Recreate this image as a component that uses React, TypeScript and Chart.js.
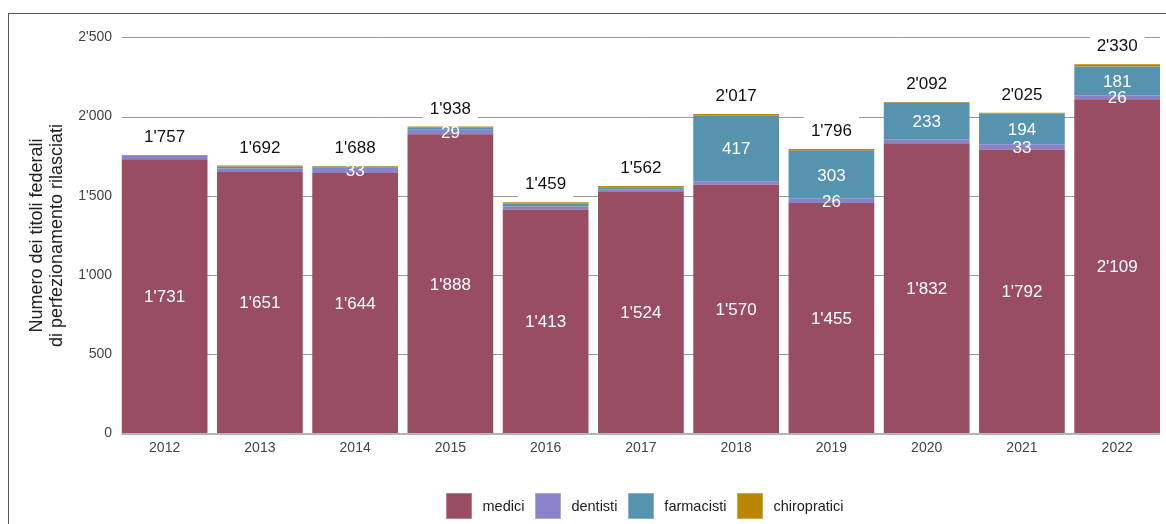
import React, { useEffect, useRef } from "react";
import { Chart, registerables } from "chart.js";

Chart.register(...registerables);

const years = ["2012", "2013", "2014", "2015", "2016", "2017", "2018", "2019", "2020", "2021", "2022"];
const medici = [1731, 1651, 1644, 1888, 1413, 1524, 1570, 1455, 1832, 1792, 2109];
const dentisti = [21, 22, 33, 29, 20, 18, 22, 26, 22, 33, 26];
const farmacisti = [1, 11, 7, 12, 18, 12, 417, 303, 233, 194, 181];
const chiropratici = [4, 8, 4, 9, 8, 8, 8, 12, 5, 6, 14];
const seriesNames = ["medici", "dentisti", "farmacisti", "chiropratici"];
const seriesColors = ["#994D63", "#8883C8", "#5593AF", "#BA8600"];
const yTicks = [0, 500, 1000, 1500, 2000, 2500];
const yTitle = ["Numero dei titoli federali", "di perfezionamento rilasciati"];
const labelThreshold = 25;

const FONT = "'Liberation Sans', Arial, Helvetica, sans-serif";
const fmt = (n: number) => String(n).replace(/\B(?=(\d{3})+(?!\d))/g, "'");

const gridPlugin = {
  id: "customGrid",
  beforeDatasetsDraw(chart: any) {
    const ctx = chart.ctx;
    const y = chart.scales.y;
    const meta = chart.getDatasetMeta(0);
    const first = meta.data[0];
    const last = meta.data[meta.data.length - 1];
    const x0 = first.x - first.width / 2;
    const x1 = last.x + last.width / 2;
    ctx.save();
    ctx.strokeStyle = "#9a9a9a";
    ctx.lineWidth = 1;
    y.ticks.forEach((t: any) => {
      if (t.value === 0) return;
      const py = Math.round(y.getPixelForValue(t.value)) + 0.5;
      ctx.beginPath();
      ctx.moveTo(x0, py);
      ctx.lineTo(x1, py);
      ctx.stroke();
    });
    ctx.restore();
  },
  afterDatasetsDraw(chart: any) {
    const ctx = chart.ctx;
    const y = chart.scales.y;
    const meta = chart.getDatasetMeta(0);
    const first = meta.data[0];
    const last = meta.data[meta.data.length - 1];
    const x0 = first.x - first.width / 2;
    const x1 = last.x + last.width / 2;
    const py = y.getPixelForValue(0) + 0.5;
    ctx.save();
    ctx.strokeStyle = "#b4b4b4";
    ctx.lineWidth = 2;
    ctx.beginPath();
    ctx.moveTo(x0, py);
    ctx.lineTo(x1, py);
    ctx.stroke();

    // inner labels
    ctx.font = `17px ${FONT}`;
    ctx.textAlign = "center";
    ctx.textBaseline = "middle";
    ctx.fillStyle = "#ffffff";
    chart.data.datasets.forEach((ds: any, i: number) => {
      const m = chart.getDatasetMeta(i);
      m.data.forEach((bar: any, j: number) => {
        const v = ds.data[j];
        if (v < labelThreshold) return;
        const cy = (bar.y + bar.base) / 2;
        ctx.fillText(fmt(v), bar.x, cy + 1);
      });
    });

    // totals
    chart.data.labels.forEach((_: any, j: number) => {
      let total = 0;
      chart.data.datasets.forEach((ds: any) => (total += ds.data[j]));
      const bar = meta.data[j];
      const top = y.getPixelForValue(total);
      const text = fmt(total);
      const w = ctx.measureText(text).width;
      ctx.fillStyle = "#ffffff";
      ctx.fillRect(bar.x - w / 2 - 7, top - 34, w + 14, 30);
      ctx.fillStyle = "#111111";
      ctx.fillText(text, bar.x, top - 17.6);
    });
    ctx.restore();
  },
};

export default function App() {
  const canvasRef = useRef<HTMLCanvasElement | null>(null);

  useEffect(() => {
    if (!canvasRef.current) return;
    const series = [medici, dentisti, farmacisti, chiropratici];
    const chart = new Chart(canvasRef.current, {
      type: "bar",
      data: {
        labels: years,
        datasets: series.map((d, i) => ({
          label: seriesNames[i],
          data: d,
          backgroundColor: seriesColors[i],
          borderWidth: 0,
          barPercentage: 0.9,
          categoryPercentage: 1,
        })),
      },
      options: {
        responsive: false,
        animation: false,
        devicePixelRatio: 1,
        layout: { padding: { top: 23.4, right: 1.2, bottom: 60.5, left: 0 } },
        plugins: {
          legend: { display: false },
          tooltip: { enabled: false },
        },
        scales: {
          x: {
            stacked: true,
            grid: { display: false, drawTicks: false },
            border: { display: false },
            ticks: { color: "#444", font: { size: 14, family: FONT }, padding: 6 },
            afterFit: (s: any) => {
              s.height = 30;
            },
          },
          y: {
            stacked: true,
            min: 0,
            max: 2500,
            afterBuildTicks: (s: any) => {
              s.ticks = yTicks.map((v) => ({ value: v }));
            },
            grid: { display: false, drawTicks: false },
            border: { display: false },
            ticks: {
              color: "#444",
              font: { size: 14, family: FONT },
              padding: 5,
              callback: (v: any) => fmt(Number(v)),
            },
            title: {
              display: true,
              text: yTitle,
              color: "#222",
              font: { size: 18, family: FONT, lineHeight: 1.1 },
              padding: { top: 18, bottom: 0 },
            },
            afterFit: (s: any) => {
              s.width = 108;
            },
          },
        },
      },
      plugins: [gridPlugin],
    });
    return () => chart.destroy();
  }, []);

  return (
    <div>
      <div
        style={{
          position: "fixed",
          left: 8,
          top: 13,
          width: 1157,
          height: 510,
          borderLeft: "1px solid #555",
          borderTop: "1px solid #555",
        }}
      >
        <canvas ref={canvasRef} width={1157} height={510} style={{ width: 1157, height: 510, display: "block" }} />
      </div>
      <div
        style={{
          position: "fixed",
          left: 446,
          top: 493,
          display: "flex",
          alignItems: "center",
          fontFamily: FONT,
          fontSize: 14.5,
          color: "#222",
        }}
      >
        {seriesNames.map((n, i) => (
          <div key={n} style={{ display: "flex", alignItems: "center", marginRight: 10.5 }}>
            <div
              style={{
                width: 26,
                height: 26,
                background: seriesColors[i],
                boxShadow: "inset 0 0 0 1px rgba(255,255,255,0.3)",
              }}
            />
            <span style={{ marginLeft: 10.5, lineHeight: "26px" }}>{n}</span>
          </div>
        ))}
      </div>
    </div>
  );
}
